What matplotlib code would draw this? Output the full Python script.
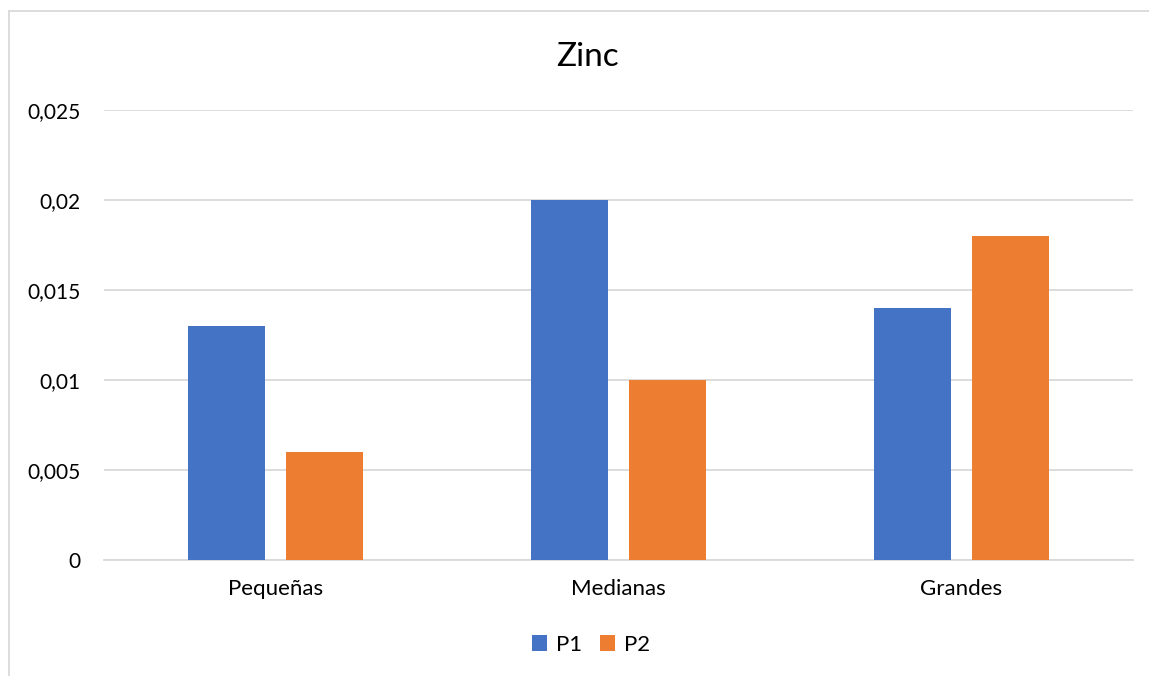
import matplotlib
matplotlib.use("Agg")
import matplotlib.pyplot as plt
import numpy as np
from matplotlib.ticker import FixedLocator

categories = ["Pequeñas", "Medianas", "Grandes"]
series_names = ["P1", "P2"]
p1 = [0.013, 0.020, 0.014]
p2 = [0.006, 0.010, 0.018]
yticks = [0, 0.005, 0.01, 0.015, 0.02, 0.025]
ytick_labels = ["0", "0,005", "0,01", "0,015", "0,02", "0,025"]
title = "Zinc"

plt.rcParams['font.family'] = ['Lato', 'DejaVu Sans']

W, H = 1149, 676
fig = plt.figure(figsize=(W / 100, H / 100), dpi=100)
ax = fig.add_axes([104 / W, 1 - 560 / H, (1133 - 104) / W, (560 - 110) / H])

x = np.arange(len(categories))
bw = 0.224
off = 0.142
blue = "#4472C4"
orange = "#ED7D31"
ax.bar(x - off, p1, bw, color=blue, label=series_names[0], zorder=3)
ax.bar(x + off, p2, bw, color=orange, label=series_names[1], zorder=3)

ax.set_xlim(-0.5, len(categories) - 0.5)
ax.set_ylim(0, 0.025)
ax.yaxis.set_major_locator(FixedLocator(yticks))
ax.set_yticklabels(ytick_labels)
ax.set_xticks(x)
ax.set_xticklabels(categories)
ax.grid(axis='y', color="#D9D9D9", linewidth=1.3, zorder=0)
for s in ["top", "right", "left"]:
    ax.spines[s].set_visible(False)
ax.spines["bottom"].set_color("#D9D9D9")
ax.spines["bottom"].set_linewidth(1.3)
ax.tick_params(axis='both', length=0, colors="#000000")
ax.tick_params(axis='y', pad=17, labelsize=15)
ax.tick_params(axis='x', pad=14, labelsize=16)

fig.text(587 / W, 1 - 57 / H, title, ha='center', va='center', fontsize=24)

leg = fig.legend(loc='center', bbox_to_anchor=(591 / W, 1 - 645 / H), ncol=2, frameon=False,
                 fontsize=16, handlelength=0.7, handleheight=0.7, handletextpad=0.4, columnspacing=0.8)

# chart border (light gray)
fig.add_artist(plt.Line2D([9 / W, 9 / W], [0, 1 - 11 / H], color="#D9D9D9", linewidth=1.3, transform=fig.transFigure))
fig.add_artist(plt.Line2D([9 / W, 1], [1 - 11 / H, 1 - 11 / H], color="#D9D9D9", linewidth=1.3, transform=fig.transFigure))

fig.savefig("out.png", dpi=100, facecolor="white")
